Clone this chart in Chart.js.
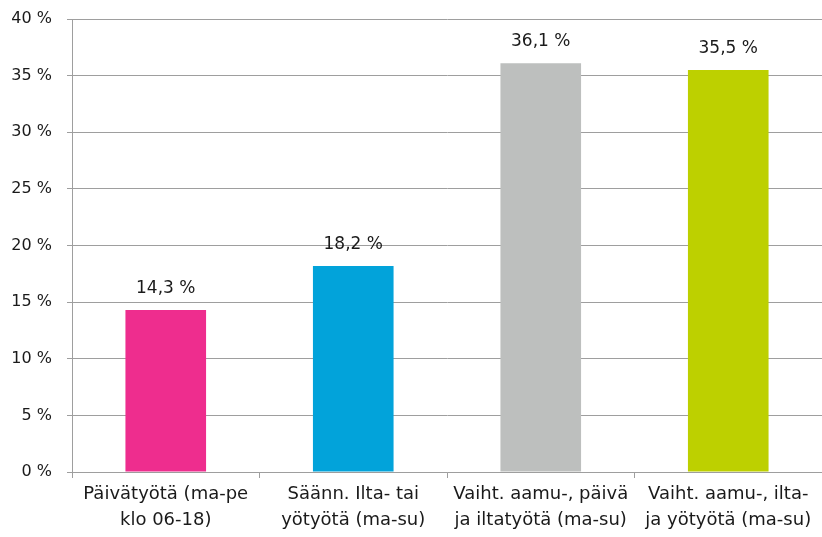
<!DOCTYPE html>
<html>
<head>
<meta charset="utf-8">
<script src="https://cdn.jsdelivr.net/npm/chart.js@4"></script>
<style>
  html, body { margin: 0; padding: 0; background: #fff; }
  #wrap { width: 822px; height: 537px; }
</style>
</head>
<body>
<div id="wrap"><canvas id="chart" width="822" height="537"></canvas></div>
<script>
'use strict';

// ===== データ =====
const categories = [
    ['Päivätyötä (ma-pe', 'klo 06-18)'],
    ['Säänn. Ilta- tai', 'yötyötä (ma-su)'],
    ['Vaiht. aamu-, päivä', 'ja iltatyötä (ma-su)'],
    ['Vaiht. aamu-, ilta-', 'ja yötyötä (ma-su)'],
];
const shares    = [14.3, 18.2, 36.1, 35.5];
const barColors = ['#ee2d8e', '#02a3da', '#bdbfbe', '#bdd000'];
const yTicks    = [0, 5, 10, 15, 20, 25, 30, 35, 40];

const FONT   = '"DejaVu Sans", sans-serif';
const GRID   = '#9e9e9e';
const fmtPct = v => v.toFixed(1).replace('.', ',') + ' %';

// バー上の値ラベル
const valueLabels = {
    id: 'valueLabels',
    afterDatasetsDraw(chart) {
        const { ctx } = chart;
        const meta = chart.getDatasetMeta(0);
        ctx.save();
        ctx.font = '17px ' + FONT;
        ctx.fillStyle = '#1a1a1a';
        ctx.textAlign = 'center';
        ctx.textBaseline = 'bottom';
        meta.data.forEach((bar, i) => {
            ctx.fillText(fmtPct(shares[i]), bar.x, bar.y - 13);
        });
        ctx.restore();
    },
};

new Chart(document.getElementById('chart'), {
    type: 'bar',
    data: {
        labels: categories,
        datasets: [{
            data: shares,
            backgroundColor: barColors,
            borderWidth: 0,
            categoryPercentage: 1,
            barPercentage: 0.43,
        }],
    },
    options: {
        responsive: false,
        animation: false,
        layout: { padding: { top: 19, right: 0, left: 0, bottom: 0 } },
        plugins: {
            legend: { display: false },
            tooltip: { enabled: false },
        },
        scales: {
            x: {
                offset: true,
                grid: {
                    offset: true,
                    drawOnChartArea: false,
                    drawTicks: true,
                    tickLength: 6,
                    lineWidth: 1,
                    // 右端の目盛りは描かない
                    color: ctx => (ctx.index === categories.length ? 'rgba(0,0,0,0)' : GRID),
                },
                border: { color: GRID, width: 1 },
                ticks: {
                    font: { family: FONT, size: 18, lineHeight: 1.45 },
                    color: '#1a1a1a',
                    maxRotation: 0,
                    autoSkip: false,
                    padding: 3,
                },
                afterFit: s => {
                    s.height = 65;
                    s.paddingLeft = 0;
                    s.paddingRight = 0;
                },
            },
            y: {
                min: 0,
                max: 40,
                afterBuildTicks: s => { s.ticks = yTicks.map(v => ({ value: v })); },
                grid: {
                    color: GRID,
                    lineWidth: 1,
                    tickLength: 5,
                },
                border: { color: GRID, width: 1 },
                ticks: {
                    font: { family: FONT, size: 16 },
                    color: '#1a1a1a',
                    padding: 15,
                    callback: v => v + ' %',
                },
                afterFit: s => {
                    s.width = 72;
                    s.paddingTop = 0;
                    s.paddingBottom = 0;
                },
            },
        },
    },
    plugins: [valueLabels],
});
</script>
</body>
</html>
